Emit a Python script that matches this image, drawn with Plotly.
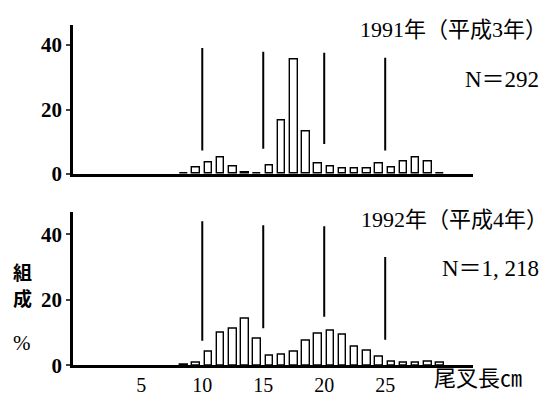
import plotly.graph_objects as go
from plotly.subplots import make_subplots

# ---- data ----
length_bins = [8.5, 9.5, 10.5, 11.5, 12.5, 13.5, 14.5, 15.5, 16.5, 17.5, 18.5, 19.5,
               20.5, 21.5, 22.5, 23.5, 24.5, 25.5, 26.5, 27.5, 28.5, 29.5]
pct_1991 = [0.0, 2.0, 3.4, 5.2, 2.4, 0.3, 0.0, 2.7, 16.5, 35.4, 13.3, 3.1,
            2.3, 1.6, 1.6, 1.6, 3.1, 2.0, 3.9, 5.2, 3.9, 0.0]
pct_1992 = [0.2, 0.8, 4.0, 10.0, 11.2, 14.2, 8.0, 2.8, 3.2, 4.2, 7.6, 9.5,
            10.7, 9.3, 5.8, 4.4, 2.5, 1.0, 0.8, 0.8, 1.0, 0.8]

# divider lines (x position, bottom %, top %)
div_x = [10, 15, 20, 25]
div_lo_1991 = [7.3, 7.8, 9.3, 7.3]
div_hi_1991 = [39.1, 37.9, 37.6, 36.1]
div_lo_1992 = [7.5, 11.3, 14.8, 7.8]
div_hi_1992 = [44.0, 42.8, 42.5, 33.1]

x_ticks = [5, 10, 15, 20, 25]
y_ticks = [0, 20, 40]
title_1991 = "1991年（平成3年）"
title_1992 = "1992年（平成4年）"
n_1991 = "N＝292"
n_1992 = "N＝1, 218"
x_title = "尾叉長㎝"
y_title_1 = "組"
y_title_2 = "成"
y_title_3 = "%"

# the page shows the figure shifted 8 px to the right
XOFF = 8
W, H = 550 - XOFF, 402
L, R = 73 - XOFF, 550 - 473
SERIF = "Times New Roman, Liberation Serif, Noto Sans CJK JP, serif"
CJK = "Noto Sans CJK JP"

fig = make_subplots(rows=2, cols=1)


def seg(xs, lo, hi):
    xx, yy = [], []
    for x, a, b in zip(xs, lo, hi):
        xx += [x, x, None]
        yy += [a, b, None]
    return xx, yy


for row, vals, lo, hi in [(1, pct_1991, div_lo_1991, div_hi_1991),
                          (2, pct_1992, div_lo_1992, div_hi_1992)]:
    fig.add_trace(go.Bar(x=length_bins, y=vals, width=0.62,
                         marker=dict(color="white", line=dict(color="black", width=1.4)),
                         showlegend=False), row=row, col=1)
    xx, yy = seg(div_x, lo, hi)
    fig.add_trace(go.Scatter(x=xx, y=yy, mode="lines",
                             line=dict(color="black", width=2), showlegend=False),
                  row=row, col=1)


def px_(p):
    return (p - XOFF - L) / (W - L - R)


def py(p):
    return 1 - p / H


xr = [-0.6, 32.2]
fig.update_xaxes(range=xr, showgrid=False, zeroline=False, showline=True,
                 linecolor="black", linewidth=2.5, ticks="", tickvals=x_ticks,
                 tickfont=dict(family=SERIF, size=20, color="black"), domain=[0, 1])
fig.update_xaxes(showticklabels=False, row=1, col=1)
fig.update_yaxes(showgrid=False, zeroline=False, showline=True, linecolor="black",
                 linewidth=2.5, ticks="outside", ticklen=4, tickwidth=1.5,
                 tickvals=y_ticks,
                 tickfont=dict(family=SERIF, size=21, color="black", weight="bold"))
fig.update_yaxes(range=[0, 46.1], domain=[py(171), py(18)], row=1, col=1)
fig.update_yaxes(range=[0, 46.9], domain=[py(368.3), py(210)], row=2, col=1)

ann = [
    dict(text=title_1991, x=px_(549), y=py(22), xanchor="right", size=22),
    dict(text=n_1991, x=px_(541), y=py(74), xanchor="right", size=23),
    dict(text=title_1992, x=px_(550), y=py(218), xanchor="right", size=22),
    dict(text=n_1992, x=px_(541), y=py(268), xanchor="right", size=23),
    dict(text=x_title, x=px_(432), y=py(382), xanchor="left", size=22),
]
for a in ann:
    fig.add_annotation(text=a["text"], x=a["x"], y=a["y"], xref="paper", yref="paper",
                       xanchor=a["xanchor"], yanchor="middle", showarrow=False,
                       font=dict(family=SERIF, size=a["size"], color="black"))
for t, yy in [(y_title_1, 272), (y_title_2, 298)]:
    fig.add_annotation(text=t, x=px_(22), y=py(yy), xref="paper", yref="paper",
                       xanchor="center", yanchor="middle", showarrow=False,
                       font=dict(family=CJK, size=19, color="black", weight="bold"))
fig.add_annotation(text=y_title_3, x=px_(22), y=py(345), xref="paper", yref="paper",
                   xanchor="center", yanchor="middle", showarrow=False,
                   font=dict(family=SERIF, size=21, color="black"))

fig.update_layout(width=W, height=H, margin=dict(l=L, r=R, t=0, b=0),
                  paper_bgcolor="white", plot_bgcolor="white", bargap=0)

fig.write_html("out.html")
